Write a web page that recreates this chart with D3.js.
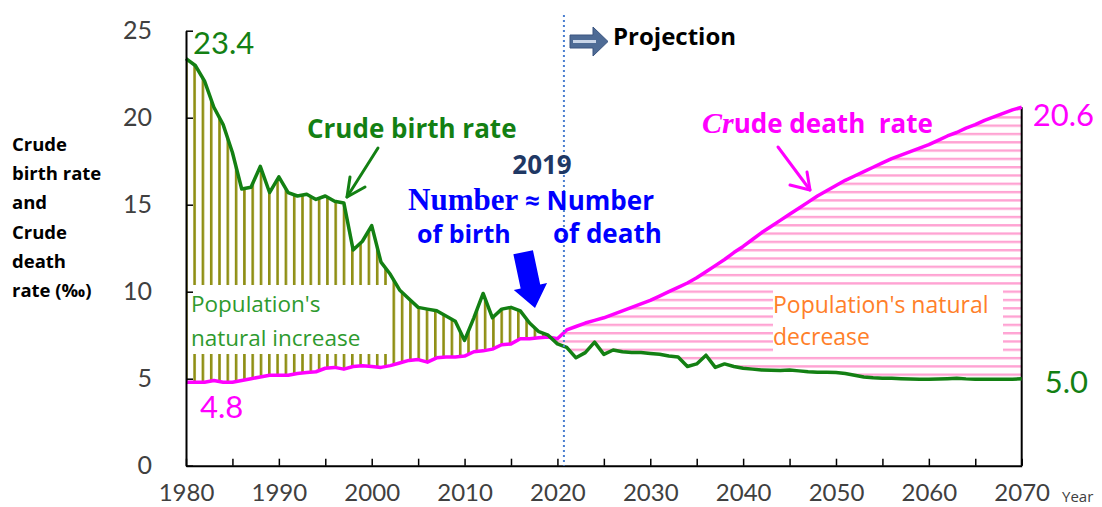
<!DOCTYPE html>
<html>
<head>
<meta charset="utf-8">
<script src="https://cdn.jsdelivr.net/npm/d3@7"></script>
<style>
  body { margin: 0; background: #fff; }
  svg { display: block; font-family: "Open Sans", Lato, sans-serif; }
</style>
</head>
<body>
<div id="chart"></div>
<script>
// Years shown on the chart (annual values, 1980 - 2070)
const years = d3.range(1980, 2071);

// Crude birth rate (per mille)
const birthRate = [
  23.4, 23.0, 22.1, 20.6, 19.6, 18.0, 15.9, 16.0, 17.2, 15.7,
  16.6, 15.7, 15.5, 15.6, 15.3, 15.5, 15.2, 15.1, 12.4, 12.9,
  13.8, 11.7, 11.0, 10.1, 9.6, 9.1, 9.0, 8.9, 8.6, 8.3,
  7.2, 8.5, 9.9, 8.5, 9.0, 9.1, 8.9, 8.2, 7.7, 7.5,
  7.0, 6.8, 6.2, 6.5, 7.1, 6.4, 6.65, 6.55, 6.5, 6.5,
  6.45, 6.4, 6.3, 6.25, 5.7, 5.85, 6.35, 5.65, 5.85, 5.7,
  5.6, 5.55, 5.5, 5.48, 5.47, 5.5, 5.45, 5.4, 5.37, 5.37,
  5.35, 5.3, 5.2, 5.1, 5.05, 5.03, 5.02, 5.0, 4.98, 4.97,
  4.97, 4.98, 5.0, 5.03, 4.99, 4.97, 4.97, 4.97, 4.97, 4.97,
  5.0
];

// Crude death rate (per mille)
const deathRate = [
  4.8, 4.8, 4.8, 4.9, 4.8, 4.8, 4.9, 5.0, 5.1, 5.2,
  5.2, 5.2, 5.3, 5.35, 5.4, 5.6, 5.65, 5.55, 5.7, 5.75,
  5.7, 5.65, 5.75, 5.9, 6.05, 6.1, 5.95, 6.2, 6.25, 6.25,
  6.3, 6.55, 6.6, 6.7, 6.95, 7.0, 7.3, 7.3, 7.35, 7.4,
  7.3, 7.8, 8.0, 8.2, 8.35, 8.5, 8.7, 8.9, 9.1, 9.3,
  9.5, 9.75, 10.0, 10.25, 10.5, 10.8, 11.15, 11.5, 11.85, 12.25,
  12.6, 13.0, 13.4, 13.75, 14.1, 14.45, 14.8, 15.15, 15.5, 15.8,
  16.1, 16.4, 16.65, 16.9, 17.15, 17.4, 17.65, 17.85, 18.05, 18.25,
  18.45, 18.7, 18.95, 19.15, 19.4, 19.6, 19.85, 20.05, 20.25, 20.45,
  20.6
];

// Axis ticks
const xTicks = d3.range(1980, 2071, 5);
const yTicks = [0, 5, 10, 15, 20, 25];
const projectionStart = 2020.7;

const rows = years.map((year, i) => ({ year, birth: birthRate[i], death: deathRate[i] }));

const width = 1102;
const height = 507;

const svg = d3.select('#chart')
  .append('svg')
  .attr('width', width)
  .attr('height', height);

const x = d3.scaleLinear().domain([1980, 2070]).range([186, 1021.7]);
const y = d3.scaleLinear().domain([0, 25]).range([465.7, 30.7]);

// Hatch patterns for the two shaded areas
const defs = svg.append('defs');
const greenHatch = defs.append('pattern')
  .attr('id', 'greenHatch')
  .attr('patternUnits', 'userSpaceOnUse')
  .attr('x', 185)
  .attr('width', 8.3)
  .attr('height', 10);
greenHatch.append('rect')
  .attr('width', 2.6).attr('height', 10)
  .attr('fill', '#8f8f14');

const pinkHatch = defs.append('pattern')
  .attr('id', 'pinkHatch')
  .attr('patternUnits', 'userSpaceOnUse')
  .attr('width', 10)
  .attr('height', 8.3);
pinkHatch.append('rect')
  .attr('width', 10).attr('height', 2.4)
  .attr('fill', '#ffa3d3');

// Clip regions: below the birth line / below the death line
const belowArea = key => d3.area()
  .x(d => x(d.year))
  .y0(y(0))
  .y1(d => y(d[key]));
const aboveArea = key => d3.area()
  .x(d => x(d.year))
  .y0(0)
  .y1(d => y(d[key]));

defs.append('clipPath').attr('id', 'belowBirth')
  .append('path').attr('d', belowArea('birth')(rows));
defs.append('clipPath').attr('id', 'belowDeath')
  .append('path').attr('d', belowArea('death')(rows));

// Natural increase: between birth (above) and death (below)
svg.append('path')
  .attr('d', aboveArea('death')(rows))
  .attr('clip-path', 'url(#belowBirth)')
  .attr('fill', 'url(#greenHatch)');

// Natural decrease: between death (above) and birth (below)
svg.append('path')
  .attr('d', aboveArea('birth')(rows))
  .attr('clip-path', 'url(#belowDeath)')
  .attr('fill', 'url(#pinkHatch)');

// White boxes behind the area captions
svg.append('rect')
  .attr('x', 188).attr('y', 285)
  .attr('width', 202).attr('height', 69)
  .attr('fill', '#fff');
svg.append('rect')
  .attr('x', 773).attr('y', 287)
  .attr('width', 230).attr('height', 69)
  .attr('fill', '#fff');

// Right-hand edge of the projected area
svg.append('line')
  .attr('x1', x(2070)).attr('x2', x(2070))
  .attr('y1', y(deathRate[deathRate.length - 1])).attr('y2', y(0))
  .attr('stroke', '#000').attr('stroke-width', 2);

// Lines
const line = key => d3.line()
  .x(d => x(d.year))
  .y(d => y(d[key]));

svg.append('path')
  .attr('d', line('death')(rows))
  .attr('fill', 'none')
  .attr('stroke', '#ff00ff')
  .attr('stroke-width', 3.5)
  .attr('stroke-linejoin', 'round');

svg.append('path')
  .attr('d', line('birth')(rows))
  .attr('fill', 'none')
  .attr('stroke', '#138013')
  .attr('stroke-width', 3.5)
  .attr('stroke-linejoin', 'round');

// Axes
const xAxis = svg.append('g')
  .attr('transform', `translate(0, ${y(0)})`)
  .call(d3.axisBottom(x)
    .tickValues(xTicks)
    .tickFormat(d => (d % 10 === 0 ? d : ''))
    .tickSizeInner(-7)
    .tickSizeOuter(0)
    .tickPadding(18));

const yAxis = svg.append('g')
  .attr('transform', `translate(${x(1980)}, 0)`)
  .call(d3.axisLeft(y)
    .tickValues(yTicks)
    .tickSizeInner(-7)
    .tickSizeOuter(0)
    .tickPadding(34));

[xAxis, yAxis].forEach(axis => {
  axis.select('.domain').attr('stroke', '#000').attr('stroke-width', 2);
  axis.selectAll('.tick line').attr('stroke', '#000').attr('stroke-width', 1.5);
  axis.selectAll('.tick text')
    .attr('fill', '#404040')
    .style('font-family', 'Lato, sans-serif');
});
xAxis.selectAll('.tick text').style('font-size', '24px');
yAxis.selectAll('.tick text').style('font-size', '25px');

svg.append('text')
  .attr('x', 1062).attr('y', 502)
  .attr('fill', '#404040')
  .style('font-size', '15px')
  .text('Year');

// Start of projection
svg.append('line')
  .attr('x1', x(projectionStart)).attr('x2', x(projectionStart))
  .attr('y1', 15).attr('y2', y(0))
  .attr('stroke', '#4a7fd0')
  .attr('stroke-width', 2)
  .attr('stroke-dasharray', '2,3');

// Y axis title
const yTitle = ['Crude', 'birth rate', 'and', 'Crude', 'death', 'rate (\u2030)'];
svg.append('g')
  .selectAll('text')
  .data(yTitle)
  .enter()
  .append('text')
  .attr('x', 12)
  .attr('y', (d, i) => 151 + i * 29.2)
  .attr('fill', '#000')
  .style('font-size', '18.5px')
  .style('font-weight', 'bold')
  .text(d => d);

// End value labels
const valueLabel = (txt, px, py, color) => svg.append('text')
  .attr('x', px).attr('y', py)
  .attr('fill', color)
  .style('font-family', 'Lato, sans-serif')
  .style('font-size', '31px')
  .text(txt);

const last = rows.length - 1;
valueLabel(d3.format('.1f')(birthRate[0]), x(1980) + 7, y(birthRate[0]) - 5, '#138013');
valueLabel(d3.format('.1f')(deathRate[0]), x(1980) + 14, y(deathRate[0]) + 36, '#ff00ff');
valueLabel(d3.format('.1f')(deathRate[last]), x(2070) + 11, y(deathRate[last]) + 19, '#ff00ff');
valueLabel(d3.format('.1f')(birthRate[last]), x(2070) + 23, y(birthRate[last]) + 14, '#138013');

// Area captions
svg.append('text')
  .attr('fill', '#2e9a2e')
  .style('font-size', '22.5px')
  .selectAll('tspan')
  .data(["Population's", 'natural increase'])
  .enter()
  .append('tspan')
  .attr('x', 191)
  .attr('y', (d, i) => 312 + i * 34)
  .text(d => d);

svg.append('text')
  .attr('fill', '#ff7f2a')
  .style('font-size', '23px')
  .selectAll('tspan')
  .data(["Population's natural", 'decrease'])
  .enter()
  .append('tspan')
  .attr('x', 773)
  .attr('y', (d, i) => 313 + i * 32)
  .text(d => d);

// Series captions with arrows
svg.append('text')
  .attr('x', 307).attr('y', 138)
  .attr('fill', '#138013')
  .style('font-size', '26px')
  .style('font-weight', 'bold')
  .text('Crude birth rate');

const deathLabel = svg.append('text')
  .attr('x', 702).attr('y', 133)
  .attr('fill', '#ff00ff')
  .style('font-size', '26px')
  .style('font-weight', 'bold');
deathLabel.append('tspan')
  .style('font-family', '"Liberation Serif", serif')
  .style('font-style', 'italic')
  .style('font-size', '30px')
  .text('Cr');
deathLabel.append('tspan').text('ude death\u00a0 rate');

const openArrow = (pts, color) => svg.append('path')
  .attr('d', d3.line()(pts))
  .attr('fill', 'none')
  .attr('stroke', color)
  .attr('stroke-width', 3)
  .attr('stroke-linecap', 'round')
  .attr('stroke-linejoin', 'round');

openArrow([[378, 148], [347, 197]], '#138013');
openArrow([[350, 177], [347, 197], [365, 187]], '#138013');
openArrow([[778, 147], [810, 190]], '#ff00ff');
openArrow([[790, 185], [810, 190], [807, 172]], '#ff00ff');

// 2019 annotation
svg.append('text')
  .attr('x', 542).attr('y', 174)
  .attr('text-anchor', 'middle')
  .attr('fill', '#1f3864')
  .style('font-size', '26px')
  .style('font-weight', 'bold')
  .text('2019');

const eq = svg.append('text')
  .attr('x', 408).attr('y', 210)
  .attr('fill', '#0000ff')
  .style('font-weight', 'bold');
eq.append('tspan')
  .style('font-family', '"Liberation Serif", serif')
  .style('font-size', '31px')
  .text('Number');
eq.append('tspan')
  .style('font-size', '26px')
  .text(' \u2248 Number');

svg.append('text')
  .attr('x', 417).attr('y', 243)
  .attr('fill', '#0000ff')
  .style('font-size', '25px')
  .style('font-weight', 'bold')
  .text('of birth');
svg.append('text')
  .attr('x', 553).attr('y', 243)
  .attr('fill', '#0000ff')
  .style('font-size', '26px')
  .style('font-weight', 'bold')
  .text('of death');

// Block arrow pointing at the crossing
svg.append('path')
  .attr('d', 'M-10,-57 L10,-57 L10,-22 L17,-22 L0,0 L-17,-22 L-10,-22 Z')
  .attr('transform', 'translate(535,308) rotate(-12)')
  .attr('fill', '#0000ff');

// Projection marker
svg.append('path')
  .attr('d', 'M570,35 L593,35 L593,27 L608,41.5 L593,56 L593,48 L570,48 Z')
  .attr('fill', '#4e6b95')
  .attr('stroke', '#3a5580')
  .attr('stroke-width', 1);
svg.append('line')
  .attr('x1', 573).attr('x2', 596)
  .attr('y1', 41.5).attr('y2', 41.5)
  .attr('stroke', '#c9d5e8')
  .attr('stroke-width', 3);
svg.append('text')
  .attr('x', 613).attr('y', 45)
  .attr('fill', '#000')
  .style('font-size', '24px')
  .style('font-weight', 'bold')
  .text('Projection');
</script>
</body>
</html>
